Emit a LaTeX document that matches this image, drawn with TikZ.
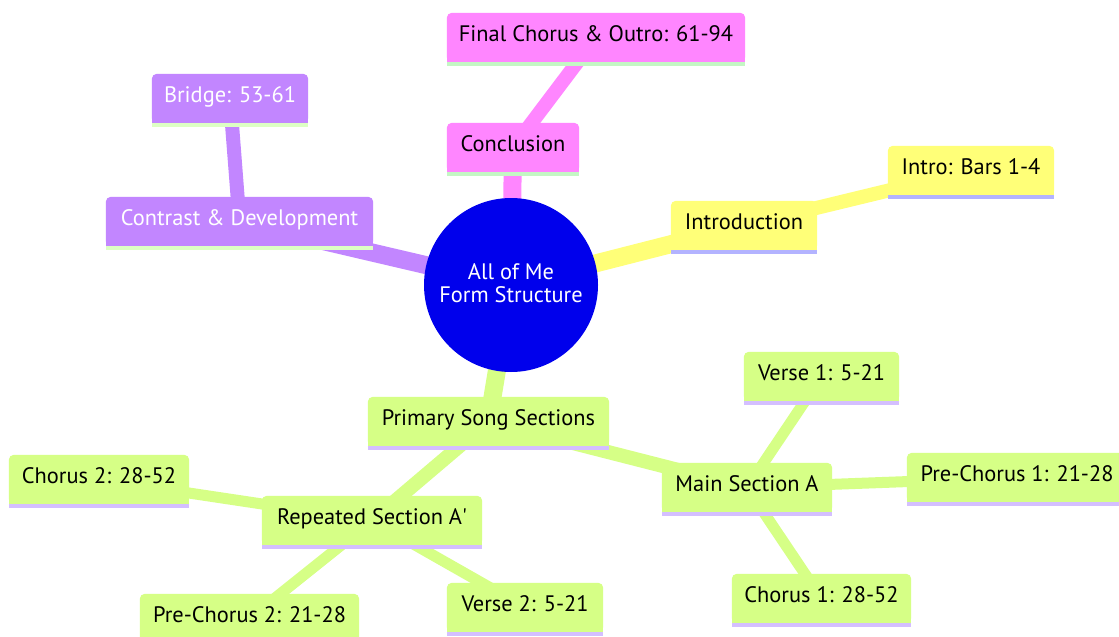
\documentclass[tikz,border=0pt]{standalone}
\usepackage{fontspec}
\setmainfont{PT Sans}
\pgfdeclarelayer{edges}
\pgfdeclarelayer{boxes}
\pgfsetlayers{edges,boxes,main}
\definecolor{rootfill}{HTML}{0000EC}
\definecolor{yelfill}{HTML}{FFFF78}
\definecolor{yelstripe}{HTML}{B3B3FF}
\definecolor{yeltext}{HTML}{000000}
\definecolor{grnfill}{HTML}{D6FF86}
\definecolor{grnstripe}{HTML}{D4BFFF}
\definecolor{grntext}{HTML}{000000}
\definecolor{purfill}{HTML}{C286FF}
\definecolor{purstripe}{HTML}{DDFFC4}
\definecolor{purtext}{HTML}{FFFFFF}
\definecolor{pnkfill}{HTML}{FF86FF}
\definecolor{pnkstripe}{HTML}{C4F7C4}
\definecolor{pnktext}{HTML}{000000}
\tikzset{
  mmbox/.style={inner sep=0pt, minimum height=49pt, text height=14pt, text depth=7pt,
    font=\fontsize{22.4}{24}\selectfont},
  rootnode/.style={circle, fill=rootfill, minimum size=174pt, inner sep=0pt, text=white,
    align=center, font=\fontsize{22.4}{24}\selectfont},
  edgezero/.style={line width=18pt},
  edgeone/.style={line width=14pt},
  edgetwo/.style={line width=11pt},
}
\newcommand\mmnode[6]{%
  \node[mmbox, minimum width=#4pt, text=#6text] (#1) at (#2,#3) {#5};
  \begin{pgfonlayer}{boxes}
    \fill[#6fill, rounded corners=5pt] (#1.north west) rectangle (#1.south east);
    \fill[#6fill] (#1.west) rectangle (#1.south east);
    \fill[#6stripe] (#1.south west) rectangle ([yshift=-4pt]#1.south east);
  \end{pgfonlayer}}
\begin{document}
\begin{tikzpicture}[x=1pt, y=-1pt]
\useasboundingbox (0,0) rectangle (1119,637);
\begin{pgfonlayer}{edges}
  \fill[white] (0,0) rectangle (1119,637);
\end{pgfonlayer}

\node[rootnode] (root) at (511,285) {\raisebox{3pt}{All of Me}\\[-1pt]\raisebox{3pt}{Form Structure}};

\mmnode{final}{596}{37.5}{298}{Final Chorus \& Outro: 61-94}{pnk}
\mmnode{concl}{513}{147.5}{132}{Conclusion}{pnk}
\mmnode{bridge}{230}{98.5}{156}{Bridge: 53-61}{pur}
\mmnode{contrast}{239.5}{221.5}{267}{Contrast \& Development}{pur}
\mmnode{intro}{744}{225.5}{146}{Introduction}{yel}
\mmnode{bars}{971}{170.5}{166}{Intro: Bars 1-4}{yel}
\mmnode{primary}{488.5}{421.5}{241}{Primary Song Sections}{grn}
\mmnode{msa}{747}{487.5}{170}{Main Section A}{grn}
\mmnode{verseone}{821.5}{376.5}{155}{Verse 1: 5-21}{grn}
\mmnode{pcone}{1017}{477.5}{220}{Pre-Chorus 1: 21-28}{grn}
\mmnode{chone}{821.5}{598.5}{179}{Chorus 1: 28-52}{grn}
\mmnode{rep}{372}{520.5}{220}{Repeated Section A\textquotesingle}{grn}
\mmnode{chtwo}{99}{479.5}{180}{Chorus 2: 28-52}{grn}
\mmnode{pctwo}{249.5}{618.5}{219}{Pre-Chorus 2: 21-28}{grn}
\mmnode{versetwo}{525}{607.5}{156}{Verse 2: 5-21}{grn}

\begin{pgfonlayer}{edges}
  \draw[edgezero, pnkfill] (root.center) -- (concl.center);
  \draw[edgeone, pnkfill] (concl.center) -- (final.center);
  \draw[edgezero, purfill] (root.center) -- (contrast.center);
  \draw[edgeone, purfill] (contrast.center) -- (bridge.center);
  \draw[edgezero, yelfill] (root.center) -- (intro.center);
  \draw[edgeone, yelfill] (intro.center) -- (bars.center);
  \draw[edgezero, grnfill] (root.center) -- (primary.center);
  \draw[edgeone, grnfill] (primary.center) -- (msa.center);
  \draw[edgeone, grnfill] (primary.center) -- (rep.center);
  \draw[edgetwo, grnfill] (msa.center) -- (verseone.center);
  \draw[edgetwo, grnfill] (msa.center) -- (pcone.center);
  \draw[edgetwo, grnfill] (msa.center) -- (chone.center);
  \draw[edgetwo, grnfill] (rep.center) -- (chtwo.center);
  \draw[edgetwo, grnfill] (rep.center) -- (pctwo.center);
  \draw[edgetwo, grnfill] (rep.center) -- (versetwo.center);
\end{pgfonlayer}
\end{tikzpicture}
\end{document}
